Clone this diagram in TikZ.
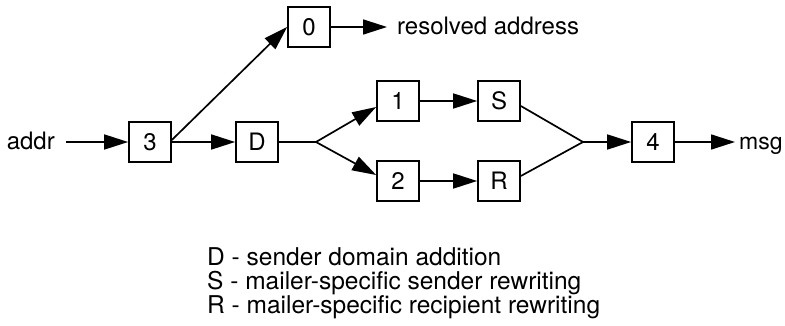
\documentclass[tikz,border=0pt]{standalone}
\usepackage{fontspec}
\setmainfont{TeX Gyre Heros}
\usetikzlibrary{arrows.meta}
\begin{document}
\begin{tikzpicture}[x=1pt,y=-1pt,
  stage/.style={draw, line width=1.7pt, minimum width=42pt, minimum height=40pt,
    inner sep=0pt, font=\fontsize{24}{26}\selectfont},
  lbl/.style={inner ysep=0pt, text height=16pt, text depth=0pt,
    font=\fontsize{24}{26}\selectfont},
  legend/.style={anchor=base west, inner sep=0pt, font=\fontsize{24.5}{26}\selectfont},
  flow/.style={line width=1.7pt, -{Triangle[length=24pt,width=15pt]}},
  wire/.style={line width=1.7pt}]
\useasboundingbox (0,0) rectangle (785,326);

% rewriting stages
\node[stage] (n3) at (150,142) {3};
\node[stage] (nD) at (257,142) {D};
\node[stage] (n0) at (309,27) {0};
\node[stage] (n1) at (398,101) {1};
\node[stage] (nS) at (499,101) {S};
\node[stage] (n2) at (398,181) {2};
\node[stage] (nR) at (499,181) {R};
\node[stage] (n4) at (653,142) {4};

% input and outputs
\node[lbl, anchor=east, inner xsep=11pt] (addr) at (66,142) {addr};
\node[lbl, anchor=west, inner xsep=10pt] (res) at (387,27) {resolved address};
\node[lbl, anchor=west, inner xsep=4pt, font=\fontsize{23}{26}\selectfont] (msg) at (735,142) {msg};

\coordinate (split) at (316,142);
\coordinate (merge) at (583,142);

% connections
\draw[flow] (addr.east) -- (n3.west);
\draw[flow] (n3.east) -- (nD.west);
\draw[flow] ([yshift=2pt]n3.east) -- (n0.west);
\draw[flow] (n0.east) -- (res.west);
\draw[wire] (nD.east) -- (split);
\draw[flow] (split) -- ([yshift=-6pt]n1.west);
\draw[flow] (split) -- ([yshift=6pt]n2.west);
\draw[flow] (n1.east) -- (nS.west);
\draw[flow] (n2.east) -- (nR.west);
\draw[wire] ([yshift=-5pt]nS.east) -- (merge) -- ([yshift=5pt]nR.east);
\draw[flow] (merge) -- (n4.west);
\draw[flow] (n4.east) -- (msg.west);

% legend
\node[legend] (legD) at (207,265) {D - sender domain addition};
\node[legend] (legS) at (207,289) {S - mailer-specific sender rewriting};
\node[legend] (legR) at (207,313) {R - mailer-specific recipient rewriting};
\end{tikzpicture}
\end{document}
